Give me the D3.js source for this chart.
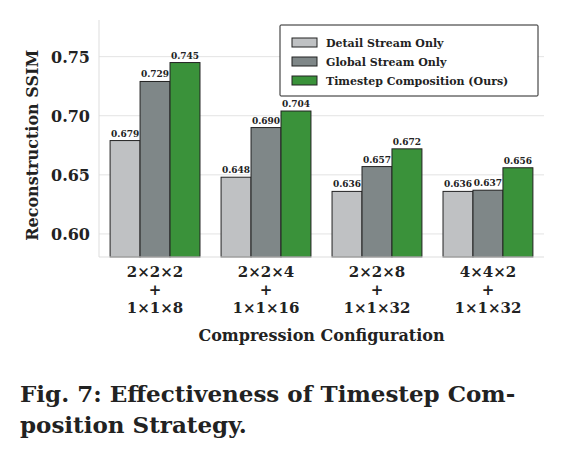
<!DOCTYPE html>
<meta charset="utf-8">
<style>
  body { margin: 0; background: #fff; }
  text { font-family: "DejaVu Serif", serif; font-weight: bold; fill: #222; }
</style>
<script src="https://d3js.org/d3.v7.min.js"></script>
<svg id="chart" width="575" height="455"></svg>
<script>
// data
var configs = ["2×2×2|+|1×1×8", "2×2×4|+|1×1×16", "2×2×8|+|1×1×32", "4×4×2|+|1×1×32"];
var seriesNames = ["Detail Stream Only", "Global Stream Only", "Timestep Composition (Ours)"];
var detail = [0.679, 0.648, 0.636, 0.636];
var global = [0.729, 0.690, 0.657, 0.637];
var timestep = [0.745, 0.704, 0.672, 0.656];
var yTicks = [0.60, 0.65, 0.70, 0.75];
var colors = ["#bfc1c3", "#7f8788", "#3a923a"];

var series = [detail, global, timestep];
var margin = {top: 20, left: 99, right: 31, bottom: 198};
var width = 575 - margin.left - margin.right,
    height = 455 - margin.top - margin.bottom;

var svg = d3.select("#chart").append("g")
  .attr("transform", "translate(" + margin.left + "," + margin.top + ")");

var x = d3.scaleBand().domain(configs).range([0, width]).paddingInner(0.19).paddingOuter(0.1);
var xs = d3.scaleBand().domain(d3.range(3)).range([0, x.bandwidth()]);
var y = d3.scaleLinear().domain([0.5805, 0.781]).range([height, 0]);

// grid
svg.selectAll(".grid").data(yTicks).enter().append("line")
  .attr("x1", 0).attr("x2", width)
  .attr("y1", d => y(d)).attr("y2", d => y(d))
  .attr("stroke", "#e3e3e3").attr("stroke-width", 1);

// bars
series.forEach(function(vals, si) {
  var g = svg.append("g");
  g.selectAll("rect").data(vals).enter().append("rect")
    .attr("x", (d, i) => x(configs[i]) + xs(si))
    .attr("y", d => y(d))
    .attr("width", xs.bandwidth())
    .attr("height", d => height - y(d))
    .attr("fill", colors[si])
    .attr("stroke", "#222").attr("stroke-width", 1);
  g.selectAll("text").data(vals).enter().append("text")
    .attr("x", (d, i) => x(configs[i]) + xs(si) + xs.bandwidth() / 2)
    .attr("y", d => y(d) - 4)
    .attr("text-anchor", "middle")
    .attr("font-size", "9px")
    .text(d => d.toFixed(3));
});

// axes lines
svg.append("line").attr("x1", 0).attr("x2", 0).attr("y1", 0).attr("y2", height)
  .attr("stroke", "#ddd");
svg.append("line").attr("x1", 0).attr("x2", width).attr("y1", height).attr("y2", height)
  .attr("stroke", "#ddd");

// y ticks
svg.selectAll(".ytick").data(yTicks).enter().append("text")
  .attr("x", -9).attr("y", d => y(d) + 6)
  .attr("text-anchor", "end").attr("font-size", "16px")
  .text(d => d.toFixed(2));

// x ticks (3 lines)
configs.forEach(function(c) {
  var t = svg.append("text")
    .attr("x", x(c) + x.bandwidth() / 2).attr("y", height + 20)
    .attr("text-anchor", "middle").attr("font-size", "15px");
  c.split("|").forEach(function(line, i) {
    t.append("tspan").attr("x", x(c) + x.bandwidth() / 2)
      .attr("dy", i === 0 ? 0 : 18).text(line);
  });
});

svg.append("text")
  .attr("x", width / 2).attr("y", height + 84)
  .attr("text-anchor", "middle").attr("font-size", "16px")
  .text("Compression Configuration");

svg.append("text")
  .attr("transform", "rotate(-90)")
  .attr("x", -y(0.675)).attr("y", -61)
  .attr("text-anchor", "middle").attr("font-size", "16px")
  .text("Reconstruction SSIM");

// legend
var lg = svg.append("g").attr("transform", "translate(181,5)");
lg.append("rect").attr("width", 258).attr("height", 71)
  .attr("fill", "#fff").attr("stroke", "#222").attr("stroke-width", 1).attr("rx", 1);
seriesNames.forEach(function(n, i) {
  lg.append("rect").attr("x", 12).attr("y", 13 + i * 19).attr("width", 25).attr("height", 9)
    .attr("fill", colors[i]).attr("stroke", "#222");
  lg.append("text").attr("x", 46).attr("y", 22 + i * 19)
    .attr("font-size", "11px").text(n);
});

// caption
var cap = d3.select("#chart").append("text").attr("font-size", "23px").attr("y", 402);
cap.append("tspan").attr("x", 20).text("Fig. 7: Effectiveness of Timestep Com-");
cap.append("tspan").attr("x", 20).attr("dy", 31).text("position Strategy.");
</script>
